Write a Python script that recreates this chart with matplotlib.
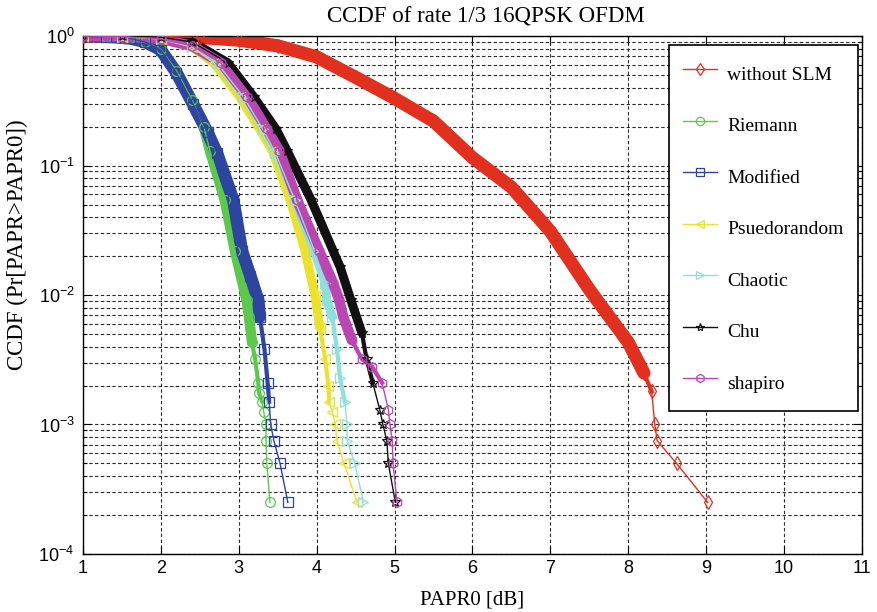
import matplotlib
matplotlib.use("Agg")
import matplotlib.pyplot as plt
from matplotlib.ticker import LogLocator, NullLocator, FixedLocator
import numpy as np

# CCDF curves: PAPR0 in dB vs Pr[PAPR > PAPR0]
without_slm_x = [1.0, 1.5, 2.0, 2.5, 3.0, 3.5, 4.0, 4.5, 5.0, 5.5, 6.0, 6.5, 7.0, 7.5, 8.0,
                 8.2, 8.3, 8.34, 8.37, 8.62, 9.02]
without_slm_p = [1.0, 1.0, 0.995, 0.975, 0.93, 0.84, 0.69, 0.48, 0.33, 0.22, 0.115, 0.068,
                 0.031, 0.011, 0.0043, 0.0025, 0.0018, 0.001, 0.00075, 0.0005, 0.00025]

riemann_x = [1.0, 1.3, 1.6, 1.8, 2.0, 2.2, 2.4, 2.55, 2.63, 2.82, 2.95, 3.10, 3.13, 3.17,
             3.21, 3.25, 3.26, 3.30, 3.32, 3.35, 3.35, 3.36, 3.40]
riemann_p = [1.0, 0.99, 0.96, 0.9, 0.79, 0.54, 0.32, 0.2, 0.13, 0.054, 0.022, 0.0091, 0.0068,
             0.0043, 0.0032, 0.0021, 0.00175, 0.0015, 0.00125, 0.001, 0.00075, 0.0005, 0.00025]

modified_x = [1.0, 1.3, 1.6, 1.8, 2.0, 2.2, 2.41, 2.6, 2.72, 2.93, 3.04, 3.15, 3.25, 3.27,
              3.33, 3.37, 3.39, 3.41, 3.45, 3.53, 3.63]
modified_p = [1.0, 0.99, 0.96, 0.9, 0.78, 0.52, 0.30, 0.18, 0.125, 0.054, 0.022, 0.014, 0.0091,
              0.0068, 0.0038, 0.0021, 0.0015, 0.001, 0.00075, 0.0005, 0.00025]

psuedo_x = [1.0, 1.5, 2.0, 2.4, 2.68, 3.01, 3.27, 3.43, 3.66, 3.85, 3.98, 4.04, 4.11, 4.15,
            4.16, 4.20, 4.24, 4.26, 4.35, 4.52]
psuedo_p = [1.0, 0.99, 0.95, 0.82, 0.62, 0.34, 0.19, 0.13, 0.054, 0.022, 0.0098, 0.0056, 0.0032,
            0.002, 0.0015, 0.00125, 0.001, 0.00075, 0.0005, 0.00025]

chaotic_x = [1.0, 1.5, 2.0, 2.4, 2.72, 3.06, 3.31, 3.47, 3.72, 3.97, 4.11, 4.13, 4.20, 4.26,
             4.30, 4.36, 4.39, 4.39, 4.49, 4.60]
chaotic_p = [1.0, 0.99, 0.95, 0.83, 0.62, 0.34, 0.19, 0.125, 0.054, 0.022, 0.0124, 0.0091,
             0.0068, 0.0038, 0.0023, 0.0015, 0.001, 0.00075, 0.0005, 0.00025]

chu_x = [1.0, 1.5, 2.0, 2.4, 2.86, 3.19, 3.48, 3.62, 3.93, 4.21, 4.30, 4.44, 4.58, 4.64,
         4.72, 4.81, 4.85, 4.90, 4.92, 5.01]
chu_p = [1.0, 1.0, 0.98, 0.9, 0.62, 0.34, 0.19, 0.13, 0.054, 0.022, 0.0165, 0.0091, 0.0051,
         0.0032, 0.0021, 0.0013, 0.001, 0.00075, 0.0005, 0.00025]

shapiro_x = [1.0, 1.5, 2.0, 2.4, 2.77, 3.11, 3.36, 3.52, 3.75, 4.03, 4.21, 4.29, 4.34, 4.45,
             4.58, 4.71, 4.84, 4.92, 4.94, 4.97, 4.98, 5.03]
shapiro_p = [1.0, 0.99, 0.95, 0.84, 0.62, 0.34, 0.19, 0.13, 0.054, 0.022, 0.0124, 0.0091,
             0.0068, 0.0045, 0.0032, 0.0028, 0.0021, 0.0013, 0.001, 0.00075, 0.0005, 0.00025]

labels = ["without SLM", "Riemann", "Modified", "Psuedorandom", "Chaotic", "Chu", "shapiro"]
x_ticks = [1, 2, 3, 4, 5, 6, 7, 8, 9, 10, 11]

# data, colour, marker, band width, lowest probability still drawn as band
series = [
    (without_slm_x, without_slm_p, "#e2301f", "d", 9.5, 0.002),
    (riemann_x, riemann_p, "#5cc84c", "o", 7.5, 0.004),
    (modified_x, modified_p, "#2d44a0", "s", 9.0, 0.004),
    (psuedo_x, psuedo_p, "#ece22c", "<", 6.5, 0.004),
    (chaotic_x, chaotic_p, "#8fe0dc", ">", 6.5, 0.004),
    (chu_x, chu_p, "#111111", "*", 6.5, 0.004),
    (shapiro_x, shapiro_p, "#b946b2", "h", 7.5, 0.004),
]

SERIF = ["Liberation Serif", "DejaVu Serif"]
SANS = ["Liberation Sans Narrow", "Liberation Sans", "DejaVu Sans"]

plt.rcParams["mathtext.fontset"] = "custom"
plt.rcParams["mathtext.rm"] = "Liberation Sans"
plt.rcParams["mathtext.it"] = "Liberation Sans"

fig = plt.figure(figsize=(8.78, 6.12), dpi=100)
ax = fig.add_axes([0.0945, 0.0948, 0.8873, 0.8463])

handles = []
for (xs, ps, color, marker, band_lw, band_min), label in zip(series, labels):
    xs = np.asarray(xs)
    ps = np.asarray(ps)
    dense = ps >= band_min
    # where the original markers pile up they form a thick band
    ax.plot(xs[dense], ps[dense], color=color, lw=band_lw, solid_capstyle="round",
            solid_joinstyle="round", zorder=2)
    mid = ps >= 0.0015
    ax.plot(xs[mid], ps[mid], color=color, lw=3.0, zorder=2)
    h, = ax.plot(xs, ps, color=color, lw=1.0, marker=marker, markersize=7,
                 markerfacecolor="none", markeredgecolor=color, markeredgewidth=0.9,
                 zorder=3, label=label)
    handles.append(h)

ax.set_yscale("log")
ax.set_xlim(1, 11)
ax.set_ylim(1e-4, 1)
ax.xaxis.set_major_locator(FixedLocator(x_ticks))
ax.xaxis.set_minor_locator(NullLocator())
ax.yaxis.set_major_locator(LogLocator(base=10, numticks=10))
ax.yaxis.set_minor_locator(LogLocator(base=10, subs=np.arange(2, 10), numticks=20))

grid_style = dict(color="#2a2a2a", lw=0.8, ls=(0, (3, 2.2)))
ax.grid(True, which="major", axis="both", **grid_style)
ax.grid(True, which="minor", axis="y", **grid_style)
ax.set_axisbelow(True)

ax.tick_params(which="both", direction="in", top=True, right=True, width=0.8)
ax.tick_params(which="major", length=6, labelsize=13)
ax.tick_params(axis="x", which="major", pad=4)
ax.tick_params(axis="y", which="major", pad=6)
ax.tick_params(which="minor", length=3)
for lab in ax.get_xticklabels() + ax.get_yticklabels():
    lab.set_family(SANS)
for sp in ax.spines.values():
    sp.set_linewidth(1.0)

ax.set_title("CCDF of rate 1/3 16QPSK OFDM", family=SERIF, fontsize=16.5, pad=10)
ax.title.set_x(0.517)
ax.set_xlabel("PAPR0 [dB]", family=SERIF, fontsize=15, labelpad=10)
ax.set_ylabel("CCDF (Pr[PAPR>PAPR0])", family=SERIF, fontsize=16.5)
ax.yaxis.set_label_coords(-0.071, 0.598)

leg = ax.legend(handles=handles, loc="upper left", mode="expand",
                bbox_to_anchor=(0.7523, 0.5, 0.2426, 0.4826),
                prop={"family": SERIF, "size": 14}, frameon=True, fancybox=False,
                edgecolor="black", framealpha=1.0, labelspacing=1.13, handleheight=1.96,
                handlelength=1.75, handletextpad=0.55, borderpad=0.7, borderaxespad=0.0)
leg.get_frame().set_linewidth(1.2)
for lh in leg.legend_handles:
    lh.set_markersize(6)

fig.savefig("out.png", dpi=100, facecolor="white")
